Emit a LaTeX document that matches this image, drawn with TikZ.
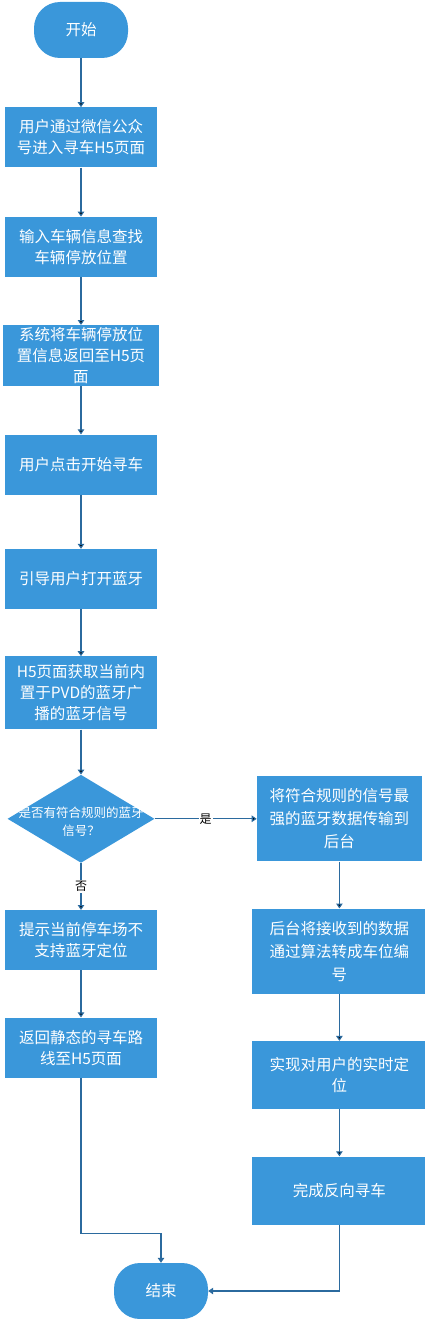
\documentclass[tikz,border=0pt]{standalone}
\usepackage{fontspec}
\newfontfamily\cjk{Noto Sans CJK SC}
\usetikzlibrary{shapes.geometric,positioning,arrows.meta}

\definecolor{stepblue}{HTML}{3A97DA}
\definecolor{linkblue}{HTML}{2B6A9E}

\begin{document}
\begin{tikzpicture}[font=\cjk,
    x=1pt, y=1pt,
    terminal/.style={rectangle, rounded corners=26pt, draw=none, fill=stepblue,
          text=white, minimum width=94pt, minimum height=56pt,
          font=\cjk\fontsize{15.5}{21}\selectfont},
    stepbox/.style={rectangle, draw=none, fill=stepblue, text=white,
          align=center, inner sep=0pt, minimum width=152pt, minimum height=60pt,
          font=\cjk\fontsize{15.5}{21}\selectfont},
    decision/.style={diamond, draw=none, fill=stepblue, text=white,
          inner sep=0pt, minimum width=147pt, minimum height=88pt,
          font=\cjk\fontsize{12.5}{18}\selectfont},
    answer/.style={fill=white, text=black, inner sep=1pt,
          font=\cjk\fontsize{12}{14}\selectfont},
    link/.style={-{Triangle[width=6.5pt,length=5pt]}, line width=1.1pt, draw=linkblue}]
   \useasboundingbox (0,0) rectangle (425,-1319);
   \node[terminal] (start) at (81,-30) {开始};
   \node[stepbox,
          below=49pt of start] (enter) {用户通过微信公众\\号进入寻车H5页面};
   \node[stepbox,
          below=49pt of enter] (query) {输入车辆信息查找\\车辆停放位置};
   \node[stepbox,
          below=48pt of query,
          minimum width=156pt,
          minimum height=61pt] (back) {系统将车辆停放位\\置信息返回至H5页\\面};
   \node[stepbox,
          below=48pt of back] (click) {用户点击开始寻车};
   \node[stepbox,
          below=54pt of click] (bt) {引导用户打开蓝牙};
   \node[stepbox,
          below=47pt of bt,
          minimum height=73pt] (scan) {H5页面获取当前内\\置于PVD的蓝牙广\\播的蓝牙信号};
   \node[decision,
          below=45pt of scan] (check) {\smash{\makebox[0pt]{\raisebox{-7pt}{\begin{tabular}{@{}c@{}}是否有符合规则的蓝牙\\信号？\end{tabular}}}}};
   \node[stepbox,
          below=47pt of check] (nosup) {提示当前停车场不\\支持蓝牙定位};
   \node[stepbox,
          below=47pt of nosup] (route) {返回静态的寻车路\\线至H5页面};
   \node[stepbox,
          right=102pt of check,
          minimum width=165pt,
          minimum height=85pt,
          font=\cjk\fontsize{15.5}{23}\selectfont] (send) {将符合规则的信号最\\强的蓝牙数据传输到\\后台};
   \node[stepbox,
          below=47pt of send,
          minimum width=174pt,
          minimum height=85pt,
          font=\cjk\fontsize{15.5}{23}\selectfont] (calc) {后台将接收到的数据\\通过算法转成车位编\\号};
   \node[stepbox,
          below=47pt of calc,
          minimum width=174pt,
          minimum height=68pt] (locate) {实现对用户的实时定\\位};
   \node[stepbox,
          below=47pt of locate,
          minimum width=174pt,
          minimum height=68pt] (done) {完成反向寻车};
   \node[terminal] (end) at (161,-1291) {结束};
   % connect the steps
   \draw[link]
        (start) edge (enter)
        (enter) edge (query)
        (query) edge (back)
        (back) edge (click)
        (click) edge (bt)
        (bt) edge (scan)
        (scan) edge (check)
        (check) edge node[answer] {是} (send)
        (check) edge node[answer] {否} (nosup)
        (nosup) edge (route)
        (send) edge (calc)
        (calc) edge (locate)
        (locate) edge (done);
   \draw[link] (route.south) -- ++(0,-156) -| (end.north);
   \draw[link] (done.south) |- (end.east);
\end{tikzpicture}
\end{document}
